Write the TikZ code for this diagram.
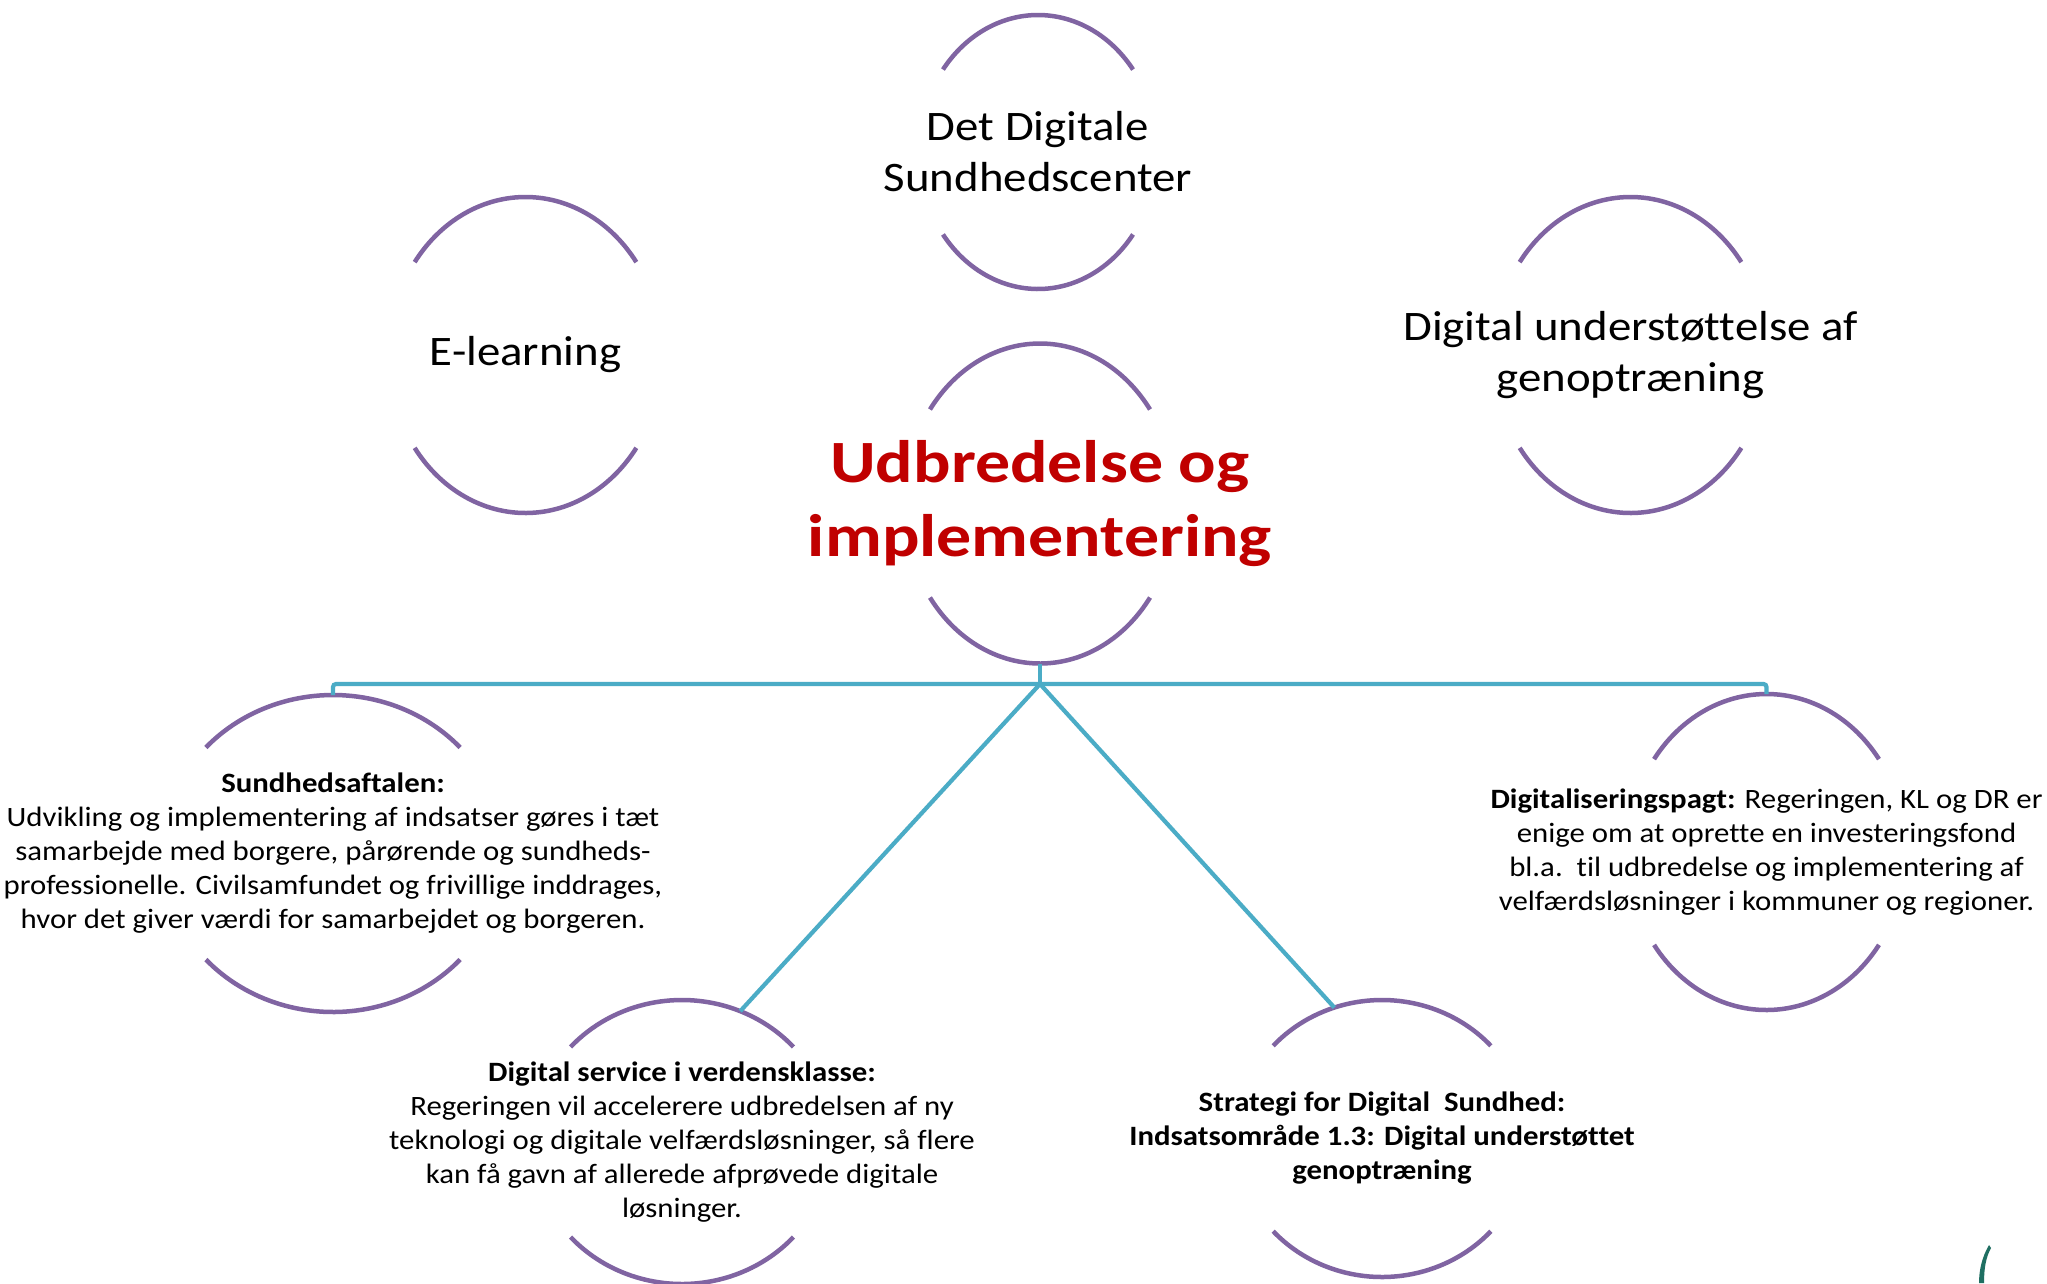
\documentclass[tikz,border=0pt]{standalone}
\usepackage{fontspec}
\setmainfont{Carlito}
\newfontfamily\bodyfont{Carlito}[FakeStretch=1.10, Ligatures=CommonOff]
\newfontfamily\bigfont{Carlito}[FakeStretch=1.115, Ligatures=CommonOff]
\newfontfamily\titlefont{Carlito}[FakeStretch=1.165, Ligatures=CommonOff]
\usetikzlibrary{calc,shapes.geometric}
\definecolor{ringpurple}{HTML}{8064A2}
\definecolor{linkblue}{HTML}{4BACC6}
\definecolor{titlered}{HTML}{C00000}
\definecolor{leafgreen}{HTML}{1F6F62}
\tikzset{
	ring/.style 2 args={ellipse, minimum width=2*#1, minimum height=2*#2, inner sep=0pt, outer sep=0pt},
	ringline/.style={ringpurple, line width=4.5pt},
	link/.style={linkblue, line width=4.2pt, rounded corners=3pt},
	bigtext/.style={font=\bigfont\fontsize{42}{51}\selectfont, align=center},
	bodytext/.style={font=\bodyfont\fontsize{28}{34}\selectfont, align=center},
	titletext/.style={font=\titlefont\fontsize{60}{74}\selectfont\bfseries, text=titlered, align=center}
}
\def\ringarcs(#1)(#2:#3:#4){\draw[ringline] ($(#1.center)+({#2*cos(#4)},{#3*sin(#4)})$) arc[start angle=#4, end angle={180-#4}, x radius=#2, y radius=#3];
	\draw[ringline] ($(#1.center)+({-#2*cos(#4)},{-#3*sin(#4)})$) arc[start angle={180+#4}, end angle={360-#4}, x radius=#2, y radius=#3];}

\begin{document}
\begin{tikzpicture}[x=1pt, y=1pt]
	%%%%% START %%%%%
	\fill[white] (0, 0) rectangle (2047, -1283);
	\useasboundingbox (0, 0) rectangle (2047, -1283);
	
	% rings
	\node[ring={119}{137}] (center) at (1038, -152) {};
	\node[ring={137}{158}] (elearn) at (525.5, -355) {};
	\node[ring={137}{158}] (genop) at (1630.5, -355) {};
	\node[ring={136}{160}] (udbred) at (1040, -503.5) {};
	\node[ring={171}{158.5}] (aftale) at (333, -853.5) {};
	\node[ring={139}{158}] (pagt) at (1766.5, -852) {};
	\node[ring={150}{142}] (service) at (682, -1142) {};
	\node[ring={146.5}{138.5}] (strategi) at (1382, -1138.5) {};
	
	\ringarcs(center)(119:137:37)
	\ringarcs(elearn)(137:158:36)
	\ringarcs(genop)(137:158:36)
	\ringarcs(udbred)(136:160:36)
	\ringarcs(aftale)(171:158.5:42)
	\ringarcs(pagt)(139:158:36)
	\ringarcs(service)(150:142:42)
	\ringarcs(strategi)(146.5:138.5:42)
	
	% texts
	\node[bigtext] (center-t) at (center) {Det Digitale\\Sundhedscenter};
	\node[bigtext] (elearn-t) at (elearn) {E-learning};
	\node[bigtext] (genop-t) at (genop) {Digital understøttelse af\\genoptræning};
	\node[titletext] (udbred-t) at (udbred) {Udbredelse og\\implementering};
	\node[bodytext] (aftale-t) at (aftale) {\textbf{Sundhedsaftalen:}\\Udvikling og implementering af indsatser gøres i tæt\\samarbejde med borgere, pårørende og sundheds-\\professionelle. Civilsamfundet og frivillige inddrages,\\hvor det giver værdi for samarbejdet og borgeren.};
	\node[bodytext] (pagt-t) at (pagt) {\textbf{Digitaliseringspagt:} Regeringen, KL og DR er\\enige om at oprette en investeringsfond\\bl.a.\ \ til udbredelse og implementering af\\velfærdsløsninger i kommuner og regioner.};
	\node[bodytext] (service-t) at (service) {\textbf{Digital service i verdensklasse:}\\Regeringen vil accelerere udbredelsen af ny\\teknologi og digitale velfærdsløsninger, så flere\\kan få gavn af allerede afprøvede digitale\\løsninger.};
	\node[bodytext, font=\bodyfont\fontsize{28}{34}\selectfont\bfseries] (strategi-t) at (strategi) {Strategi for Digital\ \ Sundhed:\\Indsatsområde 1.3: Digital understøttet\\genoptræning};
	
	% connectors
	\coordinate (hub) at (1040, -684);
	\draw[link] (udbred.south) -- (hub);
	\draw[link] (aftale.north) |- (hub) -| (pagt.north);
	\draw[link] (hub) -- (service.66);
	\draw[link] (hub) -- (strategi.110);
	
	% leaf in the corner
	\fill[leafgreen] (1989, -1245) .. controls (1982, -1257) and (1979, -1270) .. (1979, -1283) -- (1984, -1283) .. controls (1984, -1268) and (1986, -1257) .. (1991, -1248) -- cycle;
	%%%%% END %%%%%
\end{tikzpicture}
\end{document}
